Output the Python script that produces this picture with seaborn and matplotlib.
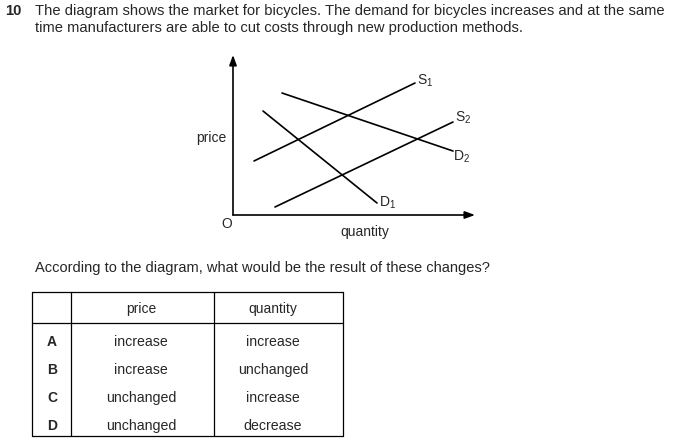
import pandas as pd, numpy as np
import matplotlib
matplotlib.use('Agg')
import matplotlib.pyplot as plt
import seaborn as sns

sns.set_style("white")
plt.rcParams['font.family'] = ['Liberation Sans', 'DejaVu Sans']
plt.rcParams['mathtext.fontset'] = 'custom'
plt.rcParams['mathtext.rm'] = 'Liberation Sans'
plt.rcParams['mathtext.it'] = 'Liberation Sans'

#Question text
q_number = '10'
q_lines = ['The diagram shows the market for bicycles. The demand for bicycles increases and at the same',
           'time manufacturers are able to cut costs through new production methods.']
q_prompt = 'According to the diagram, what would be the result of these changes?'

#Curve end points (quantity, price) in diagram units
curve_names = ['S1', 'S2', 'D1', 'D2']
curve_q = [[21, 182], [42, 220], [30, 144], [49, 220]]
curve_p = [[54, 132], [8, 93], [104, 12], [122, 64]]
curve_labels = ['S$_1$', 'S$_2$', 'D$_1$', 'D$_2$']
label_q = [192, 230, 155, 229]
label_p = [134, 97, 12, 58]

#Answer table
options = ['A', 'B', 'C', 'D']
price_col = ['increase', 'increase', 'unchanged', 'unchanged']
quantity_col = ['increase', 'unchanged', 'increase', 'decrease']

W, H = 673, 444
fig = plt.figure(figsize=(W/100, H/100), dpi=100)

#Overlay axis in pixel coordinates for text and table
page = fig.add_axes([0, 0, 1, 1])
page.set_xlim(0, W)
page.set_ylim(H, 0)
page.axis('off')

fs = 10.6
page.text(5, 11, q_number, fontsize=fs, fontweight='bold', va='center')
page.text(35, 11, q_lines[0], fontsize=fs, va='center')
page.text(35, 28, q_lines[1], fontsize=fs, va='center')
page.text(35, 268, q_prompt, fontsize=10.5, va='center')

#Table grid
lw = 0.9
tl, tr, tt, tb = 32, 343, 292, 436
for x in [tl, 71, 214, tr]:
    page.plot([x, x], [tt, tb], color='black', lw=lw)
for y in [tt, 323, tb]:
    page.plot([tl, tr], [y, y], color='black', lw=lw)
page.text(141, 309, 'price', fontsize=10, ha='center', va='center')
page.text(273, 309, 'quantity', fontsize=10, ha='center', va='center')
row_y = [342, 370, 398, 426]
for i, opt in enumerate(options):
    page.text(52, row_y[i], opt, fontsize=10, fontweight='bold', ha='center', va='center')
    page.text(141, row_y[i], price_col[i], fontsize=10.2, ha='center', va='center')
    page.text(273, row_y[i], quantity_col[i], fontsize=10.2, ha='center', va='center')

#Diagram
ox, oy, ax_w, ax_h = 233, 215, 242, 160
ax = fig.add_axes([ox/W, (H-oy)/H, ax_w/W, ax_h/H])
ax.set_xlim(0, ax_w)
ax.set_ylim(0, ax_h)
ax.axis('off')
ax.patch.set_alpha(0)

rows = []
for name, qs, ps in zip(curve_names, curve_q, curve_p):
    for q, p in zip(qs, ps):
        rows.append({'curve': name, 'quantity': q, 'price': p})
df = pd.DataFrame(rows)
sns.lineplot(data=df, x='quantity', y='price', units='curve', estimator=None,
             color='black', lw=1.2, ax=ax, sort=False)

arrow = dict(arrowstyle='-|>,head_length=0.6,head_width=0.22', color='black', lw=1.2,
             shrinkA=0, shrinkB=0)
ax.annotate('', xy=(ax_w, 0), xytext=(0, 0), arrowprops=arrow, annotation_clip=False)
ax.annotate('', xy=(0, ax_h), xytext=(0, 0), arrowprops=arrow, annotation_clip=False)

for lab, q, p in zip(curve_labels, label_q, label_p):
    ax.text(q, p, lab, fontsize=10, ha='center', va='center')

ax.text(-7, 77, 'price', fontsize=10, ha='right', va='center')
ax.text(-6, -9, 'O', fontsize=10, ha='center', va='center')
ax.text(132, -17, 'quantity', fontsize=10, ha='center', va='center')

fig.savefig('out.png', dpi=100, facecolor='white')
